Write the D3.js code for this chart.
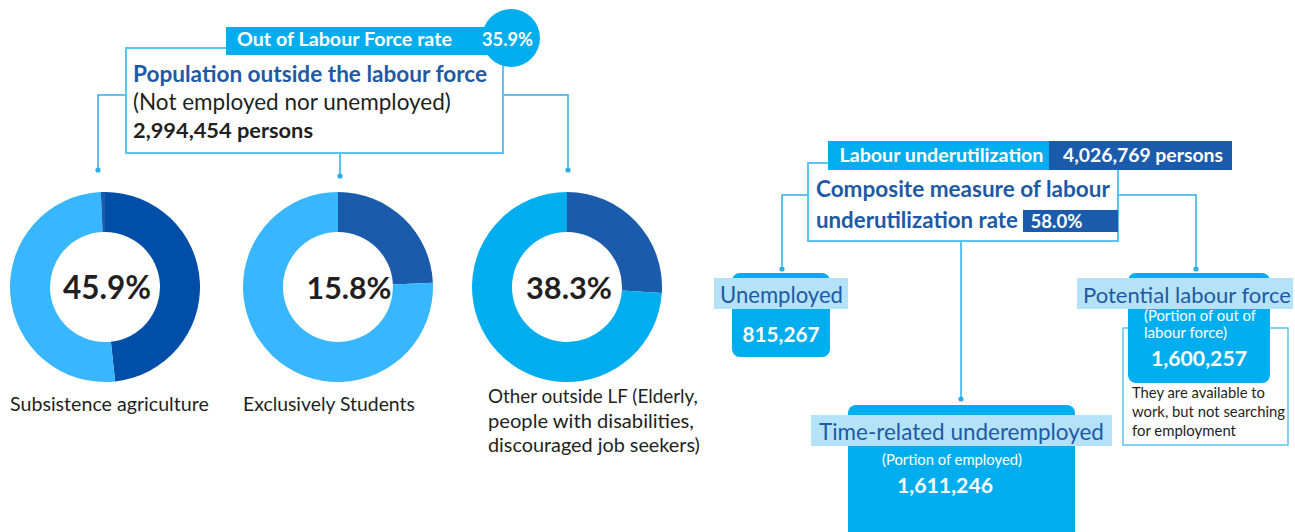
<!DOCTYPE html>
<html>
<head>
<meta charset="utf-8">
<script src="https://cdn.jsdelivr.net/npm/d3@7"></script>
<style>
	body { margin: 0; background: #ffffff; }
	svg  { display: block; font-family: Lato, "Open Sans", sans-serif; }
</style>
</head>
<body>
<svg id="svg"></svg>
<script>
// Left panel: population outside the labour force
var olf_title    = "Out of Labour Force rate";
var olf_rate     = "35.9%";
var olf_heading  = "Population outside the labour force";
var olf_sub      = "(Not employed nor unemployed)";
var olf_persons  = "2,994,454 persons";

// Donuts: share of the out-of-LF population, ring segments
var donut_pct    = ["45.9%", "15.8%", "38.3%"];
var donut_names  = [["Subsistence agriculture"],
		    ["Exclusively Students"],
		    ["Other outside LF (Elderly,", "people with disabilities,", "discouraged job seekers)"]];
var donut_values = [[48.3, 51.0, 0.7],
		    [24.3, 75.7],
		    [26.0, 74.0]];
var donut_colors = [["#004ea8", "#38b6ff", "#1a5cab"],
		    ["#1a5cab", "#38b6ff"],
		    ["#1a5cab", "#00aeef"]];

// Right panel: labour underutilization
var lu_title     = "Labour underutilization";
var lu_persons   = "4,026,769 persons";
var lu_heading   = ["Composite measure of labour", "underutilization rate"];
var lu_rate      = "58.0%";
var comp_names   = ["Unemployed", "Potential labour force", "Time-related underemployed"];
var comp_notes   = [[], ["(Portion of out of", "labour force)"], ["(Portion of employed)"]];
var comp_values  = ["815,267", "1,600,257", "1,611,246"];
var plf_remark   = ["They are available to", "work, but not searching", "for employment"];

var cyan   = "#00aeef",
    navy   = "#1a5cab",
    blue_t = "#1d5aa6",
    band   = "#b4e2f8",
    edge   = "#5cc3f0",
    line   = "#2aaee8",
    ink    = "#231f20";

var svg = d3.select("#svg")
	    .attr("width", 1295)
	    .attr("height", 532);

// scale a text's font-size so that it spans w pixels
function fit(t, w) {
	var fs  = parseFloat(t.style("font-size"));
	var len = t.node().getComputedTextLength();
	if (len > 0) {
		t.style("font-size", (fs * w / len).toFixed(2) + "px");
	}
	return t;
}

function label(g, x, y, txt, size, weight, fill, w, anchor) {
	var t = g.append("text")
		    .attr("x", x)
		    .attr("y", y)
		    .attr("text-anchor", anchor || "start")
		    .style("font-size", size + "px")
		    .style("font-weight", weight)
		    .style("fill", fill)
		    .text(txt);
	if (w) fit(t, w);
	return t;
}

function connector(g, pts) {
	g.append("path")
		.attr("d", d3.line()(pts))
		.attr("fill", "none")
		.attr("stroke", line)
		.attr("stroke-width", 1.5);
	var end = pts[pts.length - 1];
	g.append("circle")
		.attr("cx", end[0])
		.attr("cy", end[1])
		.attr("r", 2.6)
		.attr("fill", line);
}



// ---------------- left panel ----------------
var L = svg.append("g");

connector(L, [[126, 95], [98, 95], [98, 170]]);
connector(L, [[503, 95], [568, 95], [568, 170]]);
connector(L, [[340, 153], [340, 176]]);

L.append("rect")
	.attr("x", 126).attr("y", 48)
	.attr("width", 377).attr("height", 105)
	.attr("fill", "#ffffff")
	.attr("stroke", edge)
	.attr("stroke-width", 2);

L.append("rect")
	.attr("x", 226).attr("y", 27)
	.attr("width", 285).attr("height", 28)
	.attr("fill", cyan);
L.append("circle")
	.attr("cx", 511).attr("cy", 38)
	.attr("r", 29)
	.attr("fill", cyan);

label(L, 237, 46, olf_title, 18, 700, "#ffffff", 215);
label(L, 507.5, 46, olf_rate, 18, 700, "#ffffff", 51, "middle");

label(L, 133, 82,  olf_heading, 20, 700, blue_t, 354);
label(L, 133, 110, olf_sub,     20, 400, ink,    318);
label(L, 133, 138, olf_persons, 20, 700, ink,    180);

var donut_cx   = [105, 338, 567],
    donut_cy   = 287,
    label_w    = [88, 85, 86],
    label_dx   = [2, 11, 2],
    name_x     = [10, 243, 488],
    name_y     = [411, 411, 403],
    name_w     = [[199], [172], [210, 206, 212]];

var pie = d3.pie().sort(null);
var arc = d3.arc().innerRadius(55).outerRadius(95);

donut_values.forEach(function(vals, i) {
	var g = L.append("g")
		    .attr("transform", "translate(" + donut_cx[i] + "," + donut_cy + ")");

	g.selectAll("path")
		.data(pie(vals))
		.enter()
		.append("path")
		.attr("d", arc)
		.attr("fill", function(d, j) { return donut_colors[i][j]; });

	label(g, label_dx[i], 12, donut_pct[i], 32, 700, ink, label_w[i], "middle");

	donut_names[i].forEach(function(s, k) {
		label(L, name_x[i], name_y[i] + k * 24.5, s, 19, 400, ink, name_w[i][k]);
	});
});



// ---------------- right panel ----------------
var R = svg.append("g");

connector(R, [[808, 195], [782, 195], [782, 269]]);
connector(R, [[1118, 195], [1196, 195], [1196, 269]]);
connector(R, [[961, 241], [961, 399]]);

R.append("rect")
	.attr("x", 808).attr("y", 163)
	.attr("width", 310).attr("height", 78)
	.attr("fill", "#ffffff")
	.attr("stroke", edge)
	.attr("stroke-width", 2);

R.append("rect")
	.attr("x", 828).attr("y", 141)
	.attr("width", 221).attr("height", 29)
	.attr("fill", cyan);
R.append("rect")
	.attr("x", 1049).attr("y", 141)
	.attr("width", 183).attr("height", 29)
	.attr("fill", navy);

label(R, 839.5, 162, lu_title,   18, 700, "#ffffff", 204);
label(R, 1063,  162, lu_persons, 18, 700, "#ffffff", 160);

label(R, 816, 197, lu_heading[0], 21, 700, blue_t, 294);
label(R, 816, 228, lu_heading[1], 21, 700, blue_t, 202);

R.append("rect")
	.attr("x", 1023).attr("y", 210)
	.attr("width", 95).attr("height", 22)
	.attr("fill", navy);
label(R, 1030.5, 228, lu_rate, 18, 700, "#ffffff", 52);

// remark box behind the potential labour force card
R.append("rect")
	.attr("x", 1123).attr("y", 328)
	.attr("width", 165).attr("height", 117)
	.attr("fill", "#ffffff")
	.attr("stroke", edge)
	.attr("stroke-width", 1.5);
plf_remark.forEach(function(s, k) {
	label(R, 1132, 398 + k * 19, s, 15, 400, ink, [133, 153, 104][k]);
});

// component cards
var card = [
	{x: 732,  y: 273, w: 98,  h: 84,  bx: 714,  bw: 134, tx: 720,  tw: 123, nx: 0,    nw: [],        vx: 781,  vy: 342, vw: 77},
	{x: 1128, y: 273, w: 142, h: 110, bx: 1077, bw: 216, tx: 1083, tw: 208, nx: 1144, nw: [112, 83], vx: 1199, vy: 366, vw: 96},
	{x: 848,  y: 405, w: 227, h: 140, bx: 811,  bw: 301, tx: 819,  tw: 285, nx: 882,  nw: [140],     vx: 945,  vy: 493, vw: 96}
];
var band_y = [278, 278, 415],
    note_y = [0, 321, 465];

comp_names.forEach(function(name, i) {
	var c = card[i];
	R.append("rect")
		.attr("x", c.x).attr("y", c.y)
		.attr("width", c.w).attr("height", c.h)
		.attr("rx", 8)
		.attr("fill", cyan);
	R.append("rect")
		.attr("x", c.bx).attr("y", band_y[i])
		.attr("width", c.bw).attr("height", 31)
		.attr("fill", band);
	label(R, c.tx, band_y[i] + 25, name, 23, 400, blue_t, c.tw);

	comp_notes[i].forEach(function(s, k) {
		label(R, c.nx, note_y[i] + k * 17, s, 15, 400, "#ffffff", c.nw[k]);
	});
	label(R, c.vx, c.vy, comp_values[i], 22, 700, "#ffffff", c.vw, "middle");
});
</script>
</body>
</html>
